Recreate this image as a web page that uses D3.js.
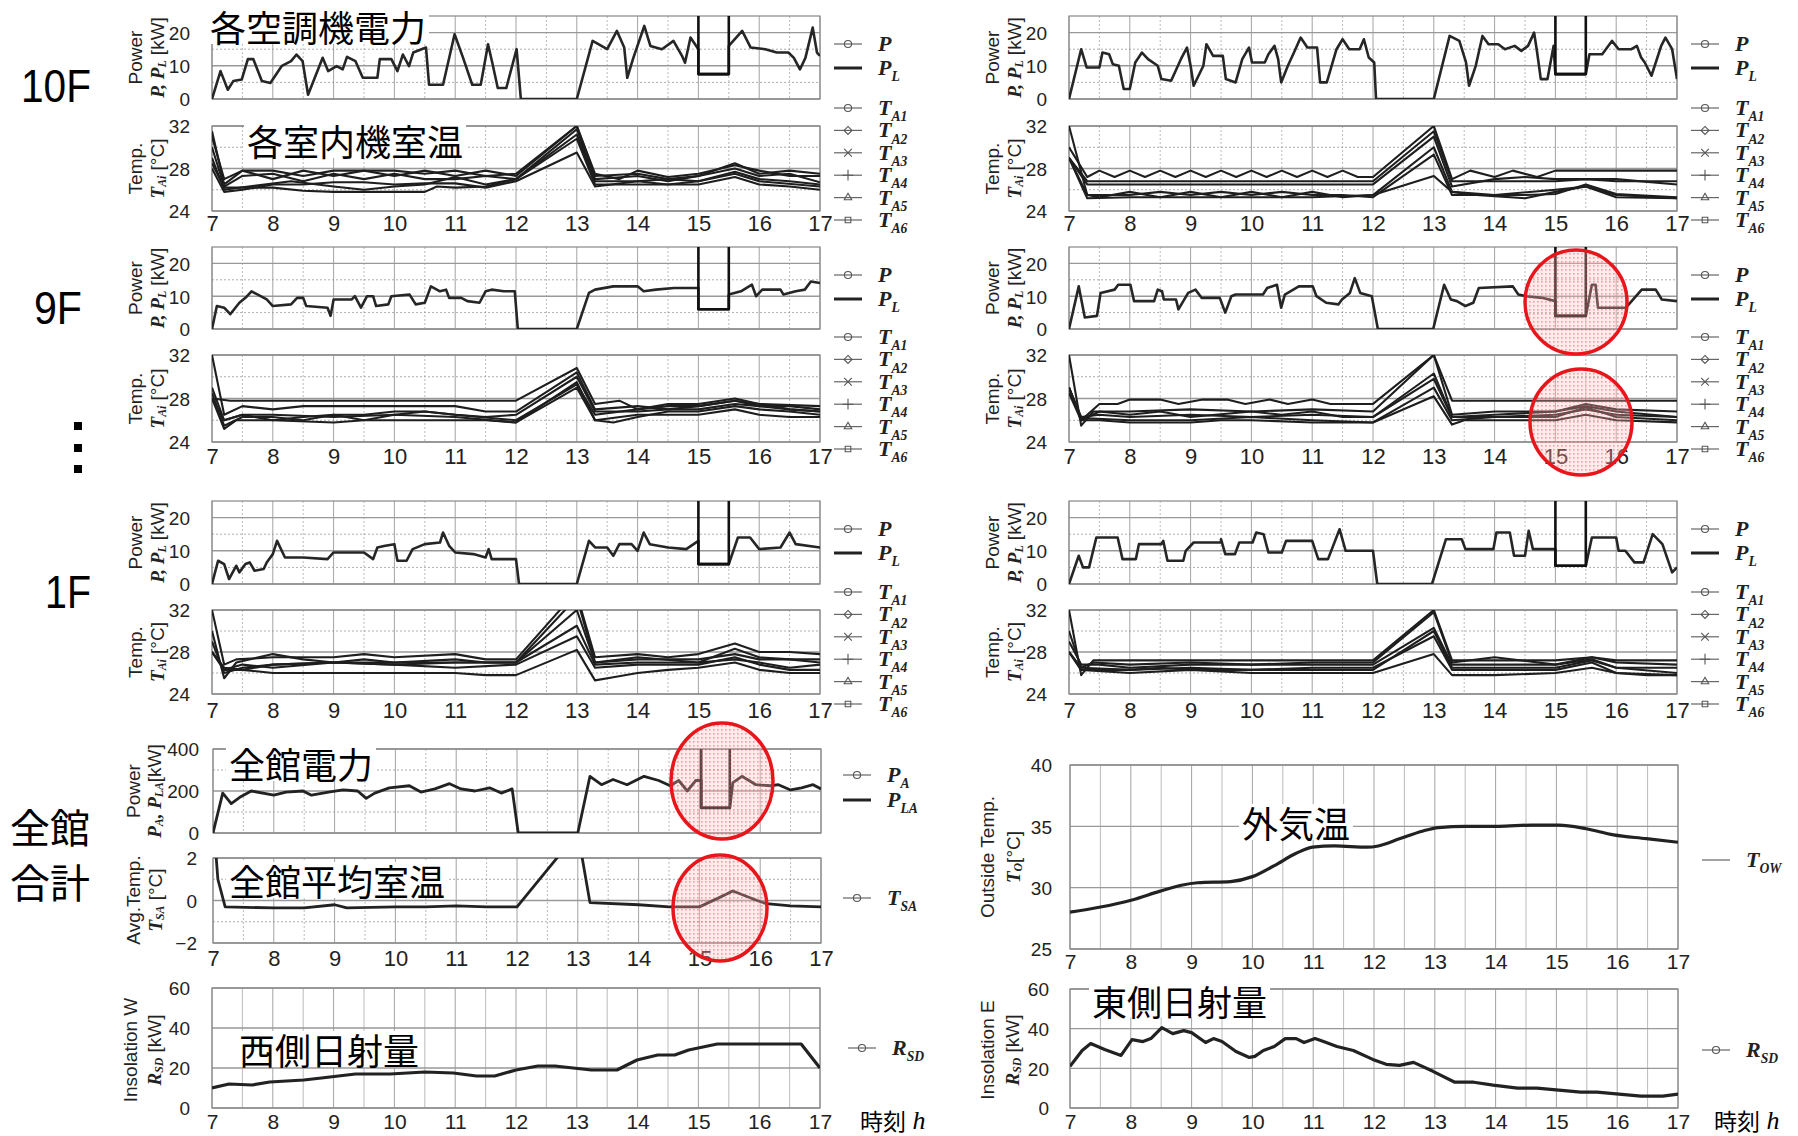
<!DOCTYPE html>
<html>
<head>
<meta charset="utf-8">
<script src="https://cdn.jsdelivr.net/npm/d3@7"></script>
<style>
  body { margin: 0; background: #fff; }
  svg { display: block; }
</style>
</head>
<body>
<svg id="chart" width="1798" height="1136"></svg>
<script>
// ---- data (hours 7..17) ----
const hourTicks = [7, 8, 9, 10, 11, 12, 13, 14, 15, 16, 17];
const halfTicks = [7.5, 8.5, 9.5, 10.5, 11.5, 12.5, 13.5, 14.5, 15.5, 16.5];

// per-floor power P [kW]
const p10L = [[7,0],[7.14,8.4],[7.26,2.8],[7.35,5.4],[7.49,5.9],[7.59,12],[7.68,12],[7.82,5.4],[7.96,4.8],[8.15,10],[8.3,11.4],[8.39,13.4],[8.49,11.4],[8.58,1.3],[8.82,12.4],[8.91,8.4],[9.05,9.9],[9.15,8.9],[9.22,12.7],[9.36,11.4],[9.48,6.4],[9.72,6.4],[9.76,12],[9.95,12],[10.05,8.4],[10.14,13.4],[10.24,9.9],[10.31,14],[10.52,15.5],[10.57,4.3],[10.8,4.3],[10.99,19.5],[11.13,12.4],[11.28,4.3],[11.42,4.3],[11.54,16.5],[11.61,10.9],[11.7,3.3],[11.84,3.3],[12.01,15],[12.08,0],[13,0],[13.26,17.5],[13.5,15],[13.66,20.5],[13.78,15.5],[13.83,6.4],[13.93,12.4],[14.11,22],[14.21,16],[14.4,15],[14.59,17.5],[14.73,13],[14.78,10.9],[14.87,18.5],[15,15],[15,7.5],[15.5,7.5],[15.5,16],[15.72,20.5],[15.86,15.5],[16.1,15],[16.29,14],[16.48,14],[16.57,12.4],[16.67,8.9],[16.76,12.4],[16.88,21.5],[16.95,14],[17,13]];
const p10R = [[7,0],[7.2,15],[7.29,9.5],[7.5,9.5],[7.55,14],[7.66,13.5],[7.72,10.5],[7.82,10],[7.9,3],[8,3],[8.09,11],[8.2,14],[8.3,12],[8.46,10],[8.52,6],[8.68,5.5],[8.84,12],[8.94,15.5],[9,10],[9.05,4],[9.21,10],[9.26,16.5],[9.37,13],[9.53,13],[9.58,6],[9.74,5],[9.85,12],[9.96,15.5],[10.01,11],[10.22,11],[10.28,13.5],[10.38,16],[10.44,12],[10.49,5],[10.6,10],[10.7,14],[10.81,18.5],[10.92,15.5],[11.08,15.5],[11.13,5],[11.24,5],[11.4,15],[11.5,18],[11.61,15],[11.78,15],[11.85,18],[11.93,12.5],[12.02,11],[12.05,0],[13,0],[13.26,19],[13.42,17.5],[13.53,11],[13.58,4],[13.69,10],[13.8,19],[13.9,16.5],[14.06,16.5],[14.17,15],[14.33,16],[14.44,14.5],[14.55,16],[14.65,20],[14.7,14],[14.76,6],[14.87,6],[14.97,16],[15,7.5],[15.5,7.5],[15.56,13.5],[15.77,13.5],[15.93,17.5],[16.04,15],[16.25,15],[16.34,16],[16.41,12.5],[16.47,11],[16.58,7],[16.74,16],[16.81,18.5],[16.92,15],[17,6]];
const p9L = [[7,0],[7.08,7],[7.2,6.5],[7.3,4.5],[7.45,8],[7.55,9.5],[7.65,11.5],[7.8,10],[7.9,9],[8,7],[8.3,7.5],[8.4,9.5],[8.5,9.5],[8.55,7],[8.9,6.5],[8.95,4],[9,9],[9.3,9],[9.35,10],[9.45,6.5],[9.55,10],[9.65,10],[9.7,7],[9.9,7.5],[9.95,10],[10.25,10.5],[10.35,7.5],[10.5,8],[10.6,13],[10.75,11.5],[10.85,12],[10.9,9.5],[11.1,9.5],[11.2,8.5],[11.4,8],[11.5,11.5],[11.6,12],[11.8,11.5],[11.98,11.5],[12.03,0],[13,0],[13.2,11],[13.3,12],[13.6,13],[14,13],[14.1,11.5],[14.3,12],[14.6,12.5],[15,12.5],[15,6],[15.5,6],[15.5,10.5],[15.7,11.5],[15.88,13.5],[15.95,10],[16.05,12],[16.35,12],[16.4,10.5],[16.6,11.5],[16.75,12],[16.85,14.5],[17,14]];
const p9R = [[7,0],[7.16,13],[7.26,3.5],[7.46,4],[7.52,11],[7.75,12],[7.81,13.5],[8.01,13.5],[8.07,8.5],[8.4,8.5],[8.46,12],[8.53,11.5],[8.56,9],[8.76,9],[8.8,6],[8.96,11],[9.08,12],[9.18,9.5],[9.48,9.5],[9.57,5],[9.67,10],[9.74,10.5],[10.19,10.5],[10.26,12.5],[10.42,13.5],[10.49,6.5],[10.55,10.5],[10.78,13],[11.01,13],[11.07,10],[11.23,8],[11.43,7.5],[11.49,9],[11.62,11],[11.7,15.5],[11.79,11],[11.98,10],[12.08,0],[12.99,0],[13.17,13.5],[13.28,9],[13.38,8.5],[13.52,7],[13.65,8],[13.74,12.5],[14.3,13],[14.39,10.5],[14.52,10],[14.78,9.5],[15,8.5],[15,4],[15.5,4],[15.6,13.5],[15.66,13.5],[15.7,6.5],[16.16,6.5],[16.42,12],[16.65,12],[16.75,9],[17,8.5]];
const p1L = [[7,0],[7.1,7],[7.2,6],[7.28,1.5],[7.4,5.5],[7.45,3.5],[7.55,6],[7.62,6.5],[7.7,4],[7.85,4.5],[7.9,6.5],[8,9],[8.07,13],[8.2,8],[8.5,8],[8.9,7.5],[9,9.5],[9.5,9.5],[9.65,7.5],[9.72,11],[9.85,11.5],[10,12],[10.05,7],[10.2,7],[10.3,10.5],[10.5,12],[10.75,12.5],[10.8,15.5],[10.9,11.5],[11,9.5],[11.3,9],[11.5,8],[11.55,10.5],[11.6,7.5],[12,7.5],[12.05,0],[13,0],[13.2,13],[13.3,11],[13.5,11],[13.6,8.5],[13.7,12],[13.9,12],[14,10],[14.1,15.5],[14.2,12],[14.5,11],[14.8,10.5],[15,13],[15,6],[15.5,6],[15.65,14],[15.85,14],[16,10.5],[16.35,11],[16.5,15.5],[16.6,12],[17,11]];
const p1R = [[7,0],[7.16,8.5],[7.23,5],[7.33,5],[7.45,14],[7.8,14],[7.88,7.5],[8.1,7.5],[8.15,12],[8.52,12],[8.55,13],[8.62,7],[8.88,7],[8.92,10],[9.05,12.5],[9.5,12.5],[9.5,13.5],[9.57,9],[9.73,9],[9.8,12.5],[10.02,12.5],[10.08,15.5],[10.2,15],[10.28,9.5],[10.5,9.5],[10.57,13],[11,13],[11.1,7.5],[11.26,7.5],[11.45,16.5],[11.55,10],[12,10],[12.07,0],[12.97,0],[13.2,13.5],[13.46,13.5],[13.52,10.5],[13.98,10.5],[14.03,15.5],[14.25,15.5],[14.32,8.5],[14.5,8.5],[14.56,16],[14.63,10.5],[15,10.5],[15,5.5],[15.5,5.5],[15.6,14],[16,14],[16.04,10],[16.15,10],[16.3,6.5],[16.45,6.5],[16.6,15],[16.76,12],[16.92,3.5],[17,5]];

// demand limit P_L [kW]
const pl10 = [[15,30],[15,7.5],[15.5,7.5],[15.5,30]];
const pl9L = [[15,30],[15,6],[15.5,6],[15.5,30]];
const pl9R = [[15,30],[15,4],[15.5,4],[15.5,30]];
const pl1L = [[15,30],[15,6],[15.5,6],[15.5,30]];
const pl1R = [[15,30],[15,5.5],[15.5,5.5],[15.5,30]];

// indoor unit temperatures T_A1..T_A6 [°C]
const t10L = [
  [[7,31],[7.2,27],[7.5,27.8],[8,27.8],[8.5,27.3],[9,27.8],[9.5,27.8],[10,27.3],[10.5,27.8],[11,27.3],[11.5,27.8],[12,27.3],[13,32],[13.3,27.5],[13.7,27],[14,27.8],[14.5,27.2],[15,27.5],[15.6,28.3],[16,27.8],[16.5,27.3],[17,27.3]],
  [[7,30],[7.2,26.3],[7.5,27.3],[8,27.5],[8.5,26.8],[9,27.5],[9.5,27],[10,27.5],[10.5,27],[11,27],[11.5,27.3],[12,27],[13,31.7],[13.3,27],[14,27.3],[14.5,26.8],[15,27.3],[15.6,28],[16,27.3],[16.5,27.5],[17,26.7]],
  [[7,29],[7.2,26],[7.6,26.3],[8.3,26.8],[9,26.3],[9.5,26],[10,26.3],[10.5,26.5],[11,27.2],[11.5,26.5],[12,27],[13,31.2],[13.3,26.8],[14,26.8],[14.5,27],[15,26.8],[15.6,27.7],[16,27],[16.5,26.8],[17,26.5]],
  [[7,28.5],[7.2,26.2],[7.5,26.2],[8,26.2],[8.5,25.9],[9,25.8],[9.5,25.8],[10,25.8],[10.5,25.8],[10.7,26.3],[11,26.2],[11.5,26.3],[12,27],[13,30.8],[13.3,26.5],[14,26.5],[14.5,26.5],[15,26.8],[15.6,27.5],[16,26.8],[17,26.3]],
  [[7,28],[7.2,25.8],[7.5,26],[8,26.5],[8.5,26.5],[9,26.7],[9.5,26.7],[10,26.5],[10.5,26.6],[11,26.6],[11.5,26.2],[12,26.8],[13,29.5],[13.3,26.3],[14,26.8],[14.5,26.5],[15,26.5],[15.6,27.2],[16,26.5],[16.5,26.3],[17,26]],
  [[7,31.5],[7.2,26.5],[7.5,27.8],[8,27],[8.5,27.8],[9,27.3],[9.5,27.8],[10,27.8],[10.5,27.5],[11,27.8],[11.5,27.3],[12,27.5],[13,32],[13.3,27.3],[14,27.5],[14.5,27],[15,27.3],[15.6,28.5],[16,27.5],[16.5,27.8],[17,27.5]]
];
const t10R = [
  [[7,30],[7.3,27.2],[7.5,27.8],[7.75,27.2],[8,27.8],[8.25,27.2],[8.5,27.8],[8.75,27.2],[9,27.8],[9.25,27.2],[9.5,27.8],[9.75,27.2],[10,27.8],[10.25,27.2],[10.5,27.8],[10.75,27.2],[11,27.8],[11.25,27.2],[11.5,27.8],[11.75,27.2],[12,27.2],[13,32],[13.3,27],[13.6,27.8],[14,27.2],[14.3,27.8],[14.7,27.2],[15,27.8],[16,27.8],[17,27.8]],
  [[7,29],[7.3,26.8],[12,26.8],[13,31.5],[13.3,26.8],[14,26.8],[15,26.8],[15.5,27],[16,26.8],[17,26.8]],
  [[7,29],[7.3,26.5],[12,26.5],[13,31],[13.3,26.3],[14,27],[14.5,27.2],[15,27],[16,27],[17,26.5]],
  [[7,32],[7.3,25.5],[7.5,25.3],[8,25.8],[8.5,25.3],[9,25.8],[9.5,25.3],[10,25.8],[10.5,25.3],[11,25.8],[11.5,25.3],[12,25.5],[13,30],[13.3,25.8],[13.7,25.5],[14,25.4],[14.5,25.2],[15,25.8],[15.5,26.3],[16,25.3],[17,25.2]],
  [[7,29],[7.3,25.5],[8,25.5],[8.5,25.8],[9,25.5],[9.5,25.8],[10,25.5],[10.5,25.8],[11,25.5],[11.5,25.5],[12,25.3],[13,29.3],[13.3,25.5],[14,25.5],[14.5,25.5],[15,25.6],[15.5,26.5],[16,25.6],[17,25.3]],
  [[7,29],[7.3,25.2],[8,25.3],[9,25.3],[10,25.3],[11,25.3],[12,25.5],[13,27.3],[13.3,25.8],[14,25.5],[15,26],[15.5,26.3],[16,25.5],[17,25.2]]
];
const t9L = [
  [[7,28],[7.3,27.8],[8,27.8],[10,27.8],[11,27.8],[12,27.8],[13,30.8],[13.3,27.5],[13.7,27.8],[14,27],[14.5,27.5],[15,27.5],[15.6,28],[16,27.5],[17,27.3]],
  [[7,32],[7.2,26.5],[7.5,27.3],[8,27],[8.5,27.3],[9,27.3],[9.5,27.3],[10,27.3],[11,27.3],[11.5,26.8],[12,26.8],[13,30.4],[13.3,27],[14,27.3],[14.5,27],[15,27.3],[15.6,27.8],[16,27.3],[16.5,27.3],[17,27]],
  [[7,29],[7.2,26],[7.5,26.5],[8,26],[8.5,26.3],[9,26.5],[9.5,26],[10,26.5],[10.5,26.8],[11,26.5],[11.5,26.3],[12,26.5],[13,30],[13.3,26.8],[14,26.8],[14.5,27],[15,27],[15.6,27.5],[16,27.3],[16.5,27],[17,26.8]],
  [[7,28],[7.2,25.2],[7.4,26],[8,26],[9,25.8],[9.5,26],[10,26],[11,26],[11.5,26],[12,25.8],[13,29.5],[13.3,26],[13.6,25.8],[14,26.3],[14.5,26.8],[15,26.8],[15.6,27.3],[16,27],[16.5,26.8],[17,26.5]],
  [[7,28.5],[7.2,25.5],[7.5,26.3],[8,26.3],[8.5,26],[9,26.5],[9.5,26.5],[10,26.8],[10.5,26.8],[11,26.5],[12,26],[13,29.3],[13.3,26.5],[14,27],[14.5,27.3],[15,27.3],[15.6,27.8],[16,27.5],[16.5,27],[17,26.8]],
  [[7,28],[7.2,26],[7.5,26.5],[8,26.5],[9,26.3],[10,26.5],[11,26.3],[12,25.8],[13,29],[13.3,26],[14,26.5],[15,26.5],[15.6,27],[16,26.5],[16.5,26.3],[17,26.3]]
];
const t9R = [
  [[7,29],[7.2,26],[7.5,27.5],[7.8,27.5],[8,27.9],[8.5,27.9],[8.8,27.5],[9.2,27.9],[9.6,27.9],[9.9,27.5],[10.3,27.9],[10.6,27.5],[11,27.9],[11.3,27.5],[11.7,27.5],[12,27.5],[13,32],[13.3,27.8],[14,27.8],[15,27.8],[16,27.8],[17,27.8]],
  [[7,32],[7.2,25.5],[7.4,26.8],[8,26.8],[9,27],[10,26.8],[11,27],[12,26.8],[13,32],[13.3,26.5],[14,26.8],[15,26.8],[15.5,27.5],[16,27],[17,26.8]],
  [[7,29],[7.2,26],[7.5,26.8],[8,26.5],[8.5,26.8],[9,26.3],[10,26.8],[10.5,26.5],[11,26.8],[11.5,26.3],[12,26.3],[13,30.3],[13.3,26.3],[14,26.5],[15,26.8],[15.5,27.3],[16,26.8],[17,26.3]],
  [[7,29],[7.2,26.3],[7.5,26.5],[8,26.3],[9,26.5],[10,26.3],[11,26.5],[12,26.3],[13,29.8],[13.3,26.3],[14,26.3],[15,26.5],[15.5,27],[16,26.5],[17,26.3]],
  [[7,29],[7.2,26.2],[8,26],[9,26],[10,26.3],[11,26],[12,25.8],[13,29],[13.3,26],[14,26.3],[15,26.3],[15.5,27.2],[16,26.3],[17,26]],
  [[7,28.5],[7.2,26],[7.5,26],[8,25.8],[9,25.8],[9.5,26],[10,26],[11,25.8],[12,25.8],[13,28.2],[13.3,25.6],[13.5,26],[14,26],[15,26],[15.5,26.5],[16,26],[17,25.8]]
];
const t1L = [
  [[7,32],[7.2,26.8],[7.4,27.3],[8,27.5],[9,27.5],[9.5,27.8],[10,27.5],[11,27.8],[11.5,27.3],[12,27.3],[12.8,32.5],[13,33.5],[13.3,27.5],[14,27.8],[14.5,27.5],[15,27.8],[15.6,28.8],[16,28],[16.5,28],[17,27.8]],
  [[7,30],[7.2,25.5],[7.4,27],[8,27.8],[8.5,27.3],[9,27],[9.5,27.3],[10,27],[11,27.3],[11.5,27],[12,27],[13,33.2],[13.3,27],[14,27.5],[15,27],[15.6,28.3],[16,27.5],[16.5,27.3],[17,27]],
  [[7,29],[7.2,26],[7.5,26.5],[8,26.8],[9,27],[10,27],[11,27],[12,27],[13,32],[13.3,27],[14,27.3],[15,27.3],[15.6,27.8],[16,27.3],[17,27.3]],
  [[7,28],[7.2,26.5],[7.5,26.3],[8,26.8],[9,27],[10,26.8],[11,27],[12,27],[13,30.5],[13.3,26.8],[14,27],[15,27],[15.6,27.3],[16,27],[16.5,26.5],[17,26.8]],
  [[7,28],[7.2,26.3],[7.5,26.8],[8,26.5],[9,27],[10,26.8],[11,26.5],[12,26.8],[13,29.5],[13.3,26.5],[14,26.8],[15,26.8],[15.6,27.5],[16,26.8],[16.5,26.3],[17,26.3]],
  [[7,28],[7.2,26.3],[7.5,26.3],[8,26],[9,26],[10,26],[11,26],[11.5,25.8],[12,25.8],[13,28.2],[13.3,25.3],[13.6,25.6],[14,26],[14.5,26.3],[15,26.5],[15.6,27],[16,26.3],[16.5,26],[17,26]]
];
const t1R = [
  [[7,32],[7.2,25.8],[7.4,27.2],[8,27.2],[9,27.2],[10,27.2],[11,27.2],[12,27.2],[13,32],[13.3,27.2],[14,27.2],[15,27.2],[15.6,27.5],[16,27.2],[17,27.2]],
  [[7,30],[7.2,26.5],[7.4,27],[8,26.8],[9,27],[10,26.8],[11,27],[12,27],[13,31.8],[13.3,27],[14,27.5],[15,26.8],[15.6,27.5],[16,27],[17,26.8]],
  [[7,29],[7.2,26.8],[7.5,26.8],[8,26.5],[9,26.8],[10,26.8],[11,26.8],[12,26.8],[13,30.3],[13.3,26.8],[14,26.8],[15,26.8],[15.6,27.3],[16,26.5],[17,26.5]],
  [[7,28],[7.2,26.5],[8,26.3],[9,26.5],[10,26.3],[11,26.3],[12,26.3],[13,30],[13.3,26.5],[14,26.5],[15,26.5],[15.6,27.2],[16,26.5],[17,26]],
  [[7,28],[7.2,26.3],[8,26.3],[8.5,26.5],[9,26.3],[10,26.3],[11,26.5],[12,26.5],[13,29.5],[13.3,26.3],[14,26.3],[15,26.3],[15.6,27],[16,26],[16.5,25.8],[17,25.8]],
  [[7,28],[7.2,26.3],[8,26],[9,26.3],[10,26],[11,26],[12,26],[13,27.8],[13.3,25.8],[14,25.8],[15,26],[15.6,26.5],[16,26],[17,25.8]]
];

// whole building
const pAll = [[7,0],[7.16,190],[7.3,140],[7.44,170],[7.63,200],[8,180],[8.2,195],[8.48,200],[8.62,180],[8.9,195],[9.14,205],[9.38,200],[9.52,165],[9.66,190],[9.9,215],[10.23,225],[10.42,195],[10.65,210],[10.89,235],[11.08,210],[11.31,200],[11.55,215],[11.74,190],[11.92,210],[12.02,0],[13,0],[13.2,270],[13.39,230],[13.58,255],[13.81,230],[14.09,270],[14.33,250],[14.52,225],[14.66,250],[14.8,200],[14.94,250],[15.03,250],[15.03,120],[15.5,120],[15.55,240],[15.7,270],[15.93,230],[16.17,225],[16.3,230],[16.5,205],[16.68,215],[16.87,230],[17,210]];
const plAll = [[15.03,500],[15.03,120],[15.5,120],[15.5,500]];
const tAvg = [[7,4],[7.08,1],[7.2,-0.3],[8,-0.35],[8.5,-0.35],[9,-0.2],[9.2,-0.35],[10,-0.3],[10.5,-0.3],[11,-0.25],[11.5,-0.3],[12,-0.3],[13,3.2],[13.2,-0.1],[14,-0.2],[14.5,-0.3],[15,-0.3],[15.3,0.1],[15.55,0.45],[15.95,0],[16.1,-0.15],[16.5,-0.25],[17,-0.3]];
const rsdW = [[7,10],[7.28,12],[7.66,11.5],[7.95,13],[8.51,14],[8.8,15],[9.36,17],[9.93,17],[10.5,18],[10.97,17.5],[11.35,16],[11.65,16],[12,19],[12.36,21],[12.64,21],[13.24,19],[13.66,19],[13.99,24],[14.33,26.5],[14.61,26.5],[14.84,29],[15.31,32],[15.78,32],[16.45,32],[16.69,32],[17,20]];
const rsdE = [[7,21],[7.2,29],[7.34,32.5],[7.57,29.5],[7.84,26.5],[8.02,34.5],[8.2,33.5],[8.33,35],[8.51,40.5],[8.69,37.5],[8.87,39],[9,38],[9.23,33],[9.36,35],[9.5,33.5],[9.73,28.5],[9.95,25.5],[10.04,26],[10.18,29],[10.36,31],[10.54,35],[10.72,35],[10.85,33],[11.03,35],[11.17,33.5],[11.39,31],[11.66,29],[11.98,24.5],[12.2,22],[12.42,21.5],[12.65,23],[12.97,18.5],[13.33,13],[13.64,13],[13.96,11.5],[14.36,10],[14.68,10],[15.04,9],[15.4,8],[15.67,8],[16.03,7],[16.39,6],[16.75,6],[17,7]];
const tOut = [[7,28],[7.48,28.4],[8.02,29],[8.47,29.7],[8.83,30.2],[9.1,30.4],[9.64,30.5],[10,30.9],[10.36,31.8],[10.72,32.8],[10.99,33.3],[11.35,33.4],[11.89,33.3],[12.07,33.4],[12.43,34],[12.79,34.6],[13.06,34.9],[13.51,35],[14.05,35],[14.59,35.1],[15.04,35.1],[15.49,34.8],[15.94,34.3],[16.48,34],[17,33.7]];

// ---- drawing ----
const svg = d3.select('#chart');
const defs = svg.append('defs');
const pat = defs.append('pattern').attr('id', 'dots').attr('width', 4).attr('height', 4)
  .attr('patternUnits', 'userSpaceOnUse');
pat.append('rect').attr('width', 4).attr('height', 4).attr('fill', 'rgba(255,190,190,0.30)');
pat.append('rect').attr('x', 1).attr('y', 1).attr('width', 1.6).attr('height', 1.6).attr('fill', 'rgba(235,60,60,0.45)');

const sansNarrow = '"Liberation Sans Narrow","Arial Narrow","Liberation Sans",Arial,sans-serif';
const sans = '"Liberation Sans",Arial,sans-serif';
const serif = '"Liberation Serif","Times New Roman",serif';
const cjk = '"Noto Sans CJK JP",sans-serif';
const ink = '#222';
let clipN = 0;

function panel(o) {
  const x = d3.scaleLinear().domain([7, 17]).range([o.x0, o.x1]);
  const y = d3.scaleLinear().domain(o.dom).range([o.y1, o.y0]);
  const g = svg.append('g');
  const id = 'clip' + (clipN++);
  defs.append('clipPath').attr('id', id).append('rect')
    .attr('x', o.x0).attr('y', o.y0).attr('width', o.x1 - o.x0).attr('height', o.y1 - o.y0);

  g.append('g').selectAll('line').data(halfTicks).join('line')
    .attr('x1', d => x(d)).attr('x2', d => x(d)).attr('y1', o.y0).attr('y2', o.y1)
    .attr('stroke', '#aaa').attr('stroke-width', 0.8).attr('stroke-dasharray', o.solidHalf ? null : '2,2');
  g.append('g').selectAll('line').data(hourTicks).join('line')
    .attr('x1', d => x(d)).attr('x2', d => x(d)).attr('y1', o.y0).attr('y2', o.y1)
    .attr('stroke', '#999').attr('stroke-width', 0.9);
  g.append('g').selectAll('line').data(o.minor || []).join('line')
    .attr('x1', o.x0).attr('x2', o.x1).attr('y1', d => y(d)).attr('y2', d => y(d))
    .attr('stroke', '#999').attr('stroke-width', 0.8).attr('stroke-dasharray', '2,2');
  g.append('g').selectAll('line').data(o.ticks).join('line')
    .attr('x1', o.x0).attr('x2', o.x1).attr('y1', d => y(d)).attr('y2', d => y(d))
    .attr('stroke', '#999').attr('stroke-width', 1.4);
  g.append('rect').attr('x', o.x0).attr('y', o.y0).attr('width', o.x1 - o.x0).attr('height', o.y1 - o.y0)
    .attr('fill', 'none').attr('stroke', '#888').attr('stroke-width', 1.2);

  const lg = g.append('g').attr('clip-path', `url(#${id})`);
  o.lines.forEach(s => {
    lg.append('path').datum(s.data)
      .attr('d', d3.line().x(d => x(d[0])).y(d => y(d[1])).curve(s.curve || d3.curveLinear))
      .attr('fill', 'none').attr('stroke', s.color || ink).attr('stroke-width', s.w || 1.6)
      .attr('stroke-linejoin', 'round');
  });

  g.append('g').attr('transform', `translate(${o.x0 - (o.gap || 22)},0)`)
    .call(d3.axisLeft(y).tickValues(o.ticks).tickSize(0).tickPadding(0).tickFormat(d3.format('d')))
    .call(a => a.select('.domain').remove())
    .attr('font-family', sansNarrow).attr('font-size', 19)
    .selectAll('text').attr('fill', ink).attr('dy', '0.36em');

  if (o.xlab) {
    g.append('g').attr('transform', `translate(0,${o.xlab})`)
      .call(d3.axisBottom(x).tickValues(hourTicks).tickSize(0).tickPadding(0).tickFormat(d3.format('d')))
      .call(a => a.select('.domain').remove())
      .attr('font-family', sansNarrow).attr('font-size', o.xfont || 22)
      .selectAll('text').attr('fill', ink).attr('dy', '0.36em');
  }
  return { x, y };
}

// rich text: parts [text, kind] kind: n normal sans, b bold italic serif, s subscript
function rich(t, parts, size) {
  let sub = false;
  parts.forEach(([txt, k]) => {
    const ts = t.append('tspan').text(txt);
    if (k === 's') {
      ts.attr('font-family', serif).attr('font-style', 'italic').attr('font-weight', 'bold')
        .attr('font-size', size * 0.62).attr('dy', sub ? 0 : size * 0.28);
      sub = true;
    } else {
      if (sub) ts.attr('dy', -size * 0.28);
      sub = false;
      if (k === 'b') ts.attr('font-family', serif).attr('font-style', 'italic').attr('font-weight', 'bold');
      else ts.attr('font-family', sans);
    }
  });
}

function yTitle(xa, xb, cy, line1, parts) {
  svg.append('text').attr('transform', `translate(${xa},${cy}) rotate(-90)`)
    .attr('text-anchor', 'middle').attr('dominant-baseline', 'central')
    .attr('font-family', sans).attr('font-size', 19).attr('fill', ink).text(line1);
  const t = svg.append('text').attr('transform', `translate(${xb},${cy}) rotate(-90)`)
    .attr('text-anchor', 'middle').attr('dominant-baseline', 'central')
    .attr('font-size', 19).attr('fill', ink);
  rich(t, parts, 19);
}

const symbols = {
  circle: d3.symbolCircle, diamond: d3.symbolDiamond2, times: d3.symbolTimes,
  plus: d3.symbolPlus, triangle: d3.symbolTriangle2, square: d3.symbolSquare2
};
function legend(xm, y, marker, parts, thick) {
  svg.append('line').attr('x1', xm - 14).attr('x2', xm + 14).attr('y1', y).attr('y2', y)
    .attr('stroke', thick ? ink : '#666').attr('stroke-width', thick ? 3 : 1.2);
  if (marker) {
    svg.append('path').attr('transform', `translate(${xm},${y})`)
      .attr('d', d3.symbol().type(symbols[marker]).size(40)())
      .attr('fill', 'none').attr('stroke', '#555').attr('stroke-width', 1.1);
  }
  const t = svg.append('text').attr('x', xm + 30).attr('y', y + 7).attr('font-size', 22).attr('fill', ink);
  rich(t, parts, 22);
}

const P_L = [['P', 'b'], ['L', 's']];
const tMarks = ['circle', 'diamond', 'times', 'plus', 'triangle', 'square'];

function floorRow(col, row, p, pl, temps) {
  panel({ x0: col.x0, x1: col.x1, y0: row.pw[0], y1: row.pw[1], dom: [0, 25], ticks: [0, 10, 20], minor: [5, 15],
    lines: [{ data: p, w: 2.6, color: '#262626' }, { data: pl, w: 2.6, color: '#111' }] });
  panel({ x0: col.x0, x1: col.x1, y0: row.tp[0], y1: row.tp[1], dom: [24, 32], ticks: [24, 28, 32], minor: [26, 30],
    xlab: row.xlab, lines: temps.map(d => ({ data: d, w: 2.1, color: '#1e1e1e' })) });
  yTitle(col.x0 - 77, col.x0 - 55, (row.pw[0] + row.pw[1]) / 2, 'Power', [['P, P', 'b'], ['L', 's'], [' [kW]', 'n']]);
  yTitle(col.x0 - 77, col.x0 - 55, (row.tp[0] + row.tp[1]) / 2, 'Temp.', [['T', 'b'], ['Ai', 's'], [' [°C]', 'n']]);
  const lx = col.x0 + 636;
  legend(lx, row.pw[0] + 28, 'circle', [['P', 'b']]);
  legend(lx, row.pw[0] + 52, null, P_L, true);
  tMarks.forEach((m, i) => legend(lx, row.tp[0] - 18 + i * 22.4, m, [['T', 'b'], ['A' + (i + 1), 's']]));
}

const colL = { x0: 212, x1: 820 };
const colR = { x0: 1069, x1: 1677 };
const row10 = { pw: [16, 99], tp: [126, 211], xlab: 223 };
const row9 = { pw: [247, 329], tp: [355, 442], xlab: 456 };
const row1 = { pw: [501, 584], tp: [610, 694], xlab: 710 };

floorRow(colL, row10, p10L, pl10, t10L);
floorRow(colR, row10, p10R, pl10, t10R);
floorRow(colL, row9, p9L, pl9L, t9L);
floorRow(colR, row9, p9R, pl9R, t9R);
floorRow(colL, row1, p1L, pl1L, t1L);
floorRow(colR, row1, p1R, pl1R, t1R);

// whole-building panels
panel({ x0: 213, x1: 821, y0: 749, y1: 833, dom: [0, 400], ticks: [0, 200, 400], minor: [100, 300], gap: 14,
  lines: [{ data: pAll, w: 2.8, color: '#222' }, { data: plAll, w: 2.6, color: '#111' }] });
panel({ x0: 213, x1: 821, y0: 858, y1: 943, dom: [-2, 2], ticks: [-2, 0, 2], minor: [-1, 1], gap: 16, xlab: 958,
  lines: [{ data: tAvg, w: 2.8, color: '#222' }] });
panel({ x0: 212, x1: 820, y0: 988, y1: 1108, dom: [0, 60], ticks: [0, 20, 40, 60], gap: 22, xlab: 1121, xfont: 21,
  solidHalf: true, lines: [{ data: rsdW, w: 3.2, color: '#222' }] });
panel({ x0: 1070, x1: 1678, y0: 765, y1: 949, dom: [25, 40], ticks: [25, 30, 35, 40], gap: 18, xlab: 961, xfont: 21,
  solidHalf: true, lines: [{ data: tOut, w: 3.2, color: '#222', curve: d3.curveMonotoneX }] });
panel({ x0: 1070, x1: 1678, y0: 989, y1: 1108, dom: [0, 60], ticks: [0, 20, 40, 60], gap: 21, xlab: 1121, xfont: 21,
  solidHalf: true, lines: [{ data: rsdE, w: 3.2, color: '#222' }] });

yTitle(133, 154, 791, 'Power', [['P', 'b'], ['A', 's'], [', P', 'b'], ['LA', 's'], ['[kW]', 'n']]);
yTitle(133, 155, 900, 'Avg.Temp.', [['T', 'b'], ['SA', 's'], [' [°C]', 'n']]);
yTitle(130, 154, 1050, 'Insolation W', [['R', 'b'], ['SD', 's'], [' [kW]', 'n']]);
yTitle(987, 1013, 857, 'Outside Temp.', [['T', 'b'], ['O', 's'], ['[°C]', 'n']]);
yTitle(987, 1012, 1050, 'Insolation E', [['R', 'b'], ['SD', 's'], [' [kW]', 'n']]);

legend(857, 775, 'circle', [['P', 'b'], ['A', 's']]);
legend(857, 800, null, [['P', 'b'], ['LA', 's']], true);
legend(857, 898, 'circle', [['T', 'b'], ['SA', 's']]);
legend(862, 1048, 'circle', [['R', 'b'], ['SD', 's']]);
legend(1716, 860, null, [['T', 'b'], ['OW', 's']]);
legend(1716, 1050, 'circle', [['R', 'b'], ['SD', 's']]);

// Japanese annotations with a tight white backing
function note(x, cy, txt, size) {
  const fs = size || 36;
  const g = svg.append('g');
  const t = g.append('text').attr('x', x).attr('y', cy).attr('dominant-baseline', 'central')
    .attr('font-family', cjk).attr('font-size', fs).attr('fill', '#000').text(txt);
  const b = t.node().getBBox();
  g.insert('rect', 'text').attr('x', b.x - 3).attr('y', cy - fs / 2).attr('width', b.width + 6).attr('height', fs)
    .attr('fill', '#fff');
}
note(210, 26, '各空調機電力');
note(247, 140, '各室内機室温');
note(229, 763, '全館電力');
note(229, 880, '全館平均室温');
note(239, 1049, '西側日射量');
note(1242, 822, '外気温');
note(1092, 1000, '東側日射量', 35);

// floor labels
function floorLabel(cx, cy, txt, w) {
  svg.append('text').attr('x', cx).attr('y', cy).attr('text-anchor', 'middle').attr('dominant-baseline', 'central')
    .attr('font-family', sans).attr('font-size', 46).attr('fill', '#000')
    .attr('textLength', w).attr('lengthAdjust', 'spacingAndGlyphs').text(txt);
}
floorLabel(56, 86, '10F', 70);
floorLabel(58, 308, '9F', 48);
floorLabel(68, 592, '1F', 46);
svg.selectAll('rect.dot').data([426, 448, 469]).join('rect').attr('class', 'dot')
  .attr('x', 74).attr('y', d => d - 4).attr('width', 8).attr('height', 8).attr('fill', '#000');
svg.append('text').attr('x', 50).attr('y', 826).attr('text-anchor', 'middle').attr('dominant-baseline', 'central')
  .attr('font-family', cjk).attr('font-size', 40).text('全館');
svg.append('text').attr('x', 50).attr('y', 881).attr('text-anchor', 'middle').attr('dominant-baseline', 'central')
  .attr('font-family', cjk).attr('font-size', 40).text('合計');

// time unit labels
[[860, 1120], [1714, 1120]].forEach(([x, y]) => {
  const t = svg.append('text').attr('x', x).attr('y', y).attr('dominant-baseline', 'central').attr('fill', '#000');
  t.append('tspan').attr('font-family', cjk).attr('font-size', 23).text('時刻');
  t.append('tspan').attr('font-family', serif).attr('font-style', 'italic').attr('font-size', 26).text(' h');
});

// red highlight ellipses
const marks = [[1576, 302, 51, 52], [1581, 422, 51, 53], [722, 781, 51, 58], [720, 908, 47, 53]];
svg.selectAll('ellipse.mark').data(marks).join('ellipse').attr('class', 'mark')
  .attr('cx', d => d[0]).attr('cy', d => d[1]).attr('rx', d => d[2]).attr('ry', d => d[3])
  .attr('fill', 'url(#dots)').attr('stroke', '#e8151b').attr('stroke-width', 3.5);
</script>
</body>
</html>
